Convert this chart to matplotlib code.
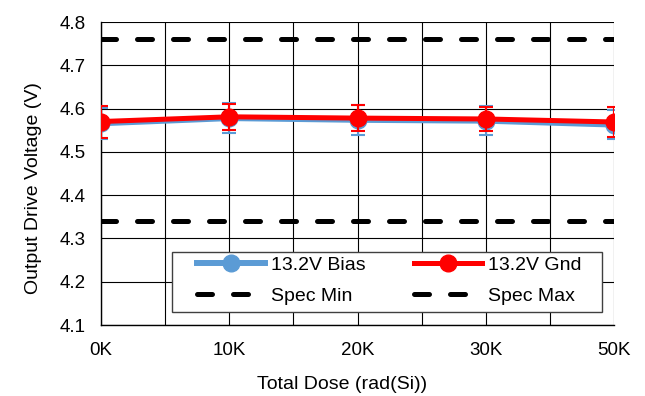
import matplotlib
matplotlib.use('Agg')
import matplotlib.pyplot as plt
from matplotlib.patches import Rectangle
import numpy as np

plt.rcParams['font.family'] = ['Liberation Sans', 'DejaVu Sans']

doses = ['0K', '10K', '20K', '30K', '50K']
bias = [4.566, 4.578, 4.574, 4.572, 4.563]
bias_err = [0.036, 0.034, 0.034, 0.034, 0.034]
gnd = [4.570, 4.581, 4.578, 4.576, 4.569]
gnd_err = [0.037, 0.030, 0.030, 0.028, 0.035]
spec_min = 4.34
spec_max = 4.76

x = np.arange(len(doses))

fig = plt.figure(figsize=(6.45, 3.96), dpi=100)
ax = fig.add_axes([101 / 645, 1 - 325 / 396, 513 / 645, 303 / 396])

blue = '#5b9bd5'
red = '#ff0000'
dash = (0, (3, 4.2))
ax.errorbar(x, bias, yerr=bias_err, fmt='none', ecolor=blue, capsize=4.7,
            elinewidth=1.5, capthick=1.5, zorder=4)
l_bias, = ax.plot(x, bias, color=blue, lw=4.3, marker='o', ms=12, label='13.2V Bias', zorder=4)
ax.errorbar(x, gnd, yerr=gnd_err, fmt='none', ecolor=red, capsize=4.7,
            elinewidth=1.5, capthick=1.5, zorder=5)
l_gnd, = ax.plot(x, gnd, color=red, lw=3.6, marker='o', ms=12, label='13.2V Gnd', zorder=5)
l_min, = ax.plot(x, [spec_min] * len(x), color='black', lw=3.6, ls=dash,
                 dash_capstyle='round', label='Spec Min', zorder=3)
l_max, = ax.plot(x, [spec_max] * len(x), color='black', lw=3.6, ls=dash,
                 dash_capstyle='round', label='Spec Max', zorder=3)

ax.set_xlim(0, len(x) - 1)
ax.set_ylim(4.1, 4.8)
ax.set_xticks(x)
ax.set_xticklabels(doses)
ax.set_xticks(x[:-1] + 0.5, minor=True)
ax.set_yticks(np.arange(4.1, 4.81, 0.1))
ax.grid(True, which='both', color='black', lw=0.8)
ax.tick_params(which='both', length=0, labelsize=13.5)
ax.tick_params(axis='x', pad=12)
ax.tick_params(axis='y', pad=11)
for s in ['top', 'right']:
    ax.spines[s].set_visible(False)
for s in ['left', 'bottom']:
    ax.spines[s].set_linewidth(1)

ax.set_xlabel('Total Dose (rad(Si))', fontsize=14)
ax.xaxis.set_label_coords(0.47, -0.168)
ax.set_ylabel('Output Drive Voltage (V)', fontsize=14)
ax.yaxis.set_label_coords(-0.115, 0.452)

# legend frame drawn by hand so the inner padding matches
ax.add_patch(Rectangle((0.138, 0.043), 0.838, 0.198, transform=ax.transAxes,
                       facecolor='white', edgecolor='#404040', lw=1, zorder=9,
                       clip_on=False))
leg = ax.legend([l_bias, l_min, l_gnd, l_max],
                ['13.2V Bias', 'Spec Min', '13.2V Gnd', 'Spec Max'],
                ncol=2, loc='upper left', bbox_to_anchor=((197 - 101) / 513, (325 - 256) / 303),
                fontsize=14, frameon=False, handlelength=3.5, handletextpad=0.3,
                borderpad=0, labelspacing=0.72, borderaxespad=0, columnspacing=2.5)
leg.set_zorder(10)

fig.savefig('out.png', dpi=100)
